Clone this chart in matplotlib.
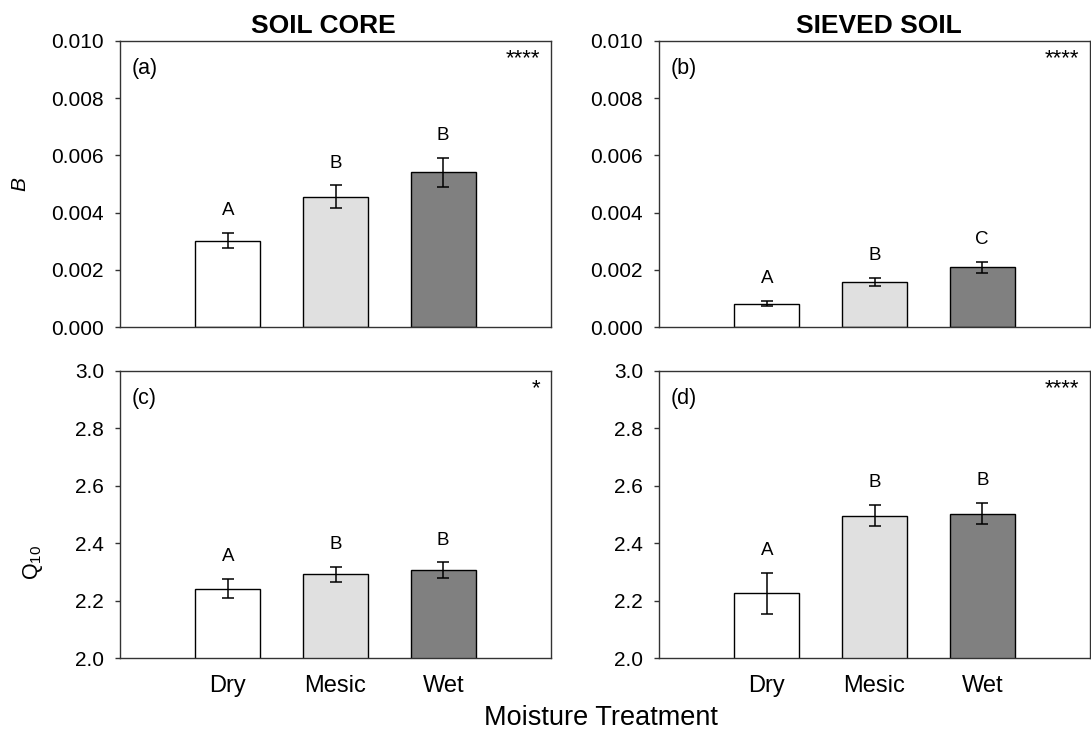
import matplotlib
matplotlib.use("Agg")
import matplotlib.pyplot as plt
import numpy as np

plt.rcParams['font.family'] = ['Liberation Sans', 'DejaVu Sans']
plt.rcParams['mathtext.fontset'] = 'custom'
plt.rcParams['mathtext.rm'] = 'Liberation Sans'
plt.rcParams['mathtext.it'] = 'Liberation Sans:italic'

categories = ["Dry", "Mesic", "Wet"]
colors = ["#ffffff", "#e0e0e0", "#808080"]

# Panel (a) SOIL CORE, B
b_core = [0.00302, 0.00455, 0.00541]
b_core_err = [0.00026, 0.00040, 0.00050]
b_core_letters = ["A", "B", "B"]
# Panel (b) SIEVED SOIL, B
b_sieved = [0.00082, 0.00158, 0.00209]
b_sieved_err = [0.00008, 0.00015, 0.00019]
b_sieved_letters = ["A", "B", "C"]
# Panel (c) SOIL CORE, Q10
q_core = [2.242, 2.292, 2.306]
q_core_err = [0.033, 0.026, 0.027]
q_core_letters = ["A", "B", "B"]
# Panel (d) SIEVED SOIL, Q10
q_sieved = [2.226, 2.496, 2.503]
q_sieved_err = [0.071, 0.037, 0.037]
q_sieved_letters = ["A", "B", "B"]

panel_tags = ["(a)", "(b)", "(c)", "(d)"]
significance = ["****", "****", "*", "****"]
col_titles = ["SOIL CORE", "SIEVED SOIL"]
b_ticks = [0.000, 0.002, 0.004, 0.006, 0.008, 0.010]
q_ticks = [2.0, 2.2, 2.4, 2.6, 2.8, 3.0]

W, H = 1091, 736
fig = plt.figure(figsize=(W / 100, H / 100), dpi=100)

def fx(px):
    return px / W

def fy(py):
    return 1 - py / H

left_x = [120, 659]
panel_w = 431
top_y = [(41, 327), (371, 658)]
title_x = [323, 879]

panels = [
    (b_core, b_core_err, b_core_letters, 0, 0),
    (b_sieved, b_sieved_err, b_sieved_letters, 0, 1),
    (q_core, q_core_err, q_core_letters, 1, 0),
    (q_sieved, q_sieved_err, q_sieved_letters, 1, 1),
]

spine_color = "#333333"
for i, (vals, errs, letters, r, c) in enumerate(panels):
    t, b = top_y[r]
    ax = fig.add_axes([fx(left_x[c]), fy(b), fx(panel_w), fy(t) - fy(b)])
    x = np.arange(len(categories))
    ax.bar(x, vals, width=0.6, color=colors, edgecolor="black", linewidth=1.0,
           zorder=2)
    ax.errorbar(x, vals, yerr=errs, fmt="none", ecolor="black", elinewidth=1.1,
                capsize=4.5, capthick=1.1, zorder=3)
    ax.set_xlim(-1, 3)
    if r == 0:
        ax.set_ylim(0, 0.010)
        ax.set_yticks(b_ticks)
        ax.set_yticklabels([f"{v:.3f}" for v in b_ticks])
        ax.set_xticks([])
    else:
        ax.set_ylim(2.0, 3.0)
        ax.set_yticks(q_ticks)
        ax.set_yticklabels([f"{v:.1f}" for v in q_ticks])
        ax.set_xticks(x)
        ax.set_xticklabels(categories)
        ax.tick_params(axis="x", length=0, pad=12, labelsize=17)
    ax.tick_params(axis="y", direction="out", length=3.6, width=1, labelsize=15,
                   color=spine_color, pad=8)
    for s in ax.spines.values():
        s.set_color(spine_color)
        s.set_linewidth(1.0)
    for xi, v, e, L in zip(x, vals, errs, letters):
        ax.annotate(L, (xi, v + e), xytext=(0, 10), textcoords="offset points",
                    ha="center", va="bottom", fontsize=13.5)
    ax.text(0.028, 0.94, panel_tags[i], transform=ax.transAxes, ha="left",
            va="top", fontsize=15.5)
    ax.text(0.9745, 0.975, significance[i], transform=ax.transAxes, ha="right",
            va="top", fontsize=16)
    if r == 0:
        fig.text(fx(title_x[c]), fy(26), col_titles[c], fontsize=19,
                 fontweight="bold", ha="center", va="center")

fig.text(fx(21), fy(184), "$\\it{B}$", rotation=90, ha="center", va="center",
         fontsize=15)
fig.text(fx(33), fy(562), "Q$_{10}$", rotation=90, ha="center", va="center",
         fontsize=15.5)
fig.text(fx(601), fy(718), "Moisture Treatment", ha="center", va="center",
         fontsize=19.5)

fig.savefig("out.png", dpi=100, facecolor="white")
